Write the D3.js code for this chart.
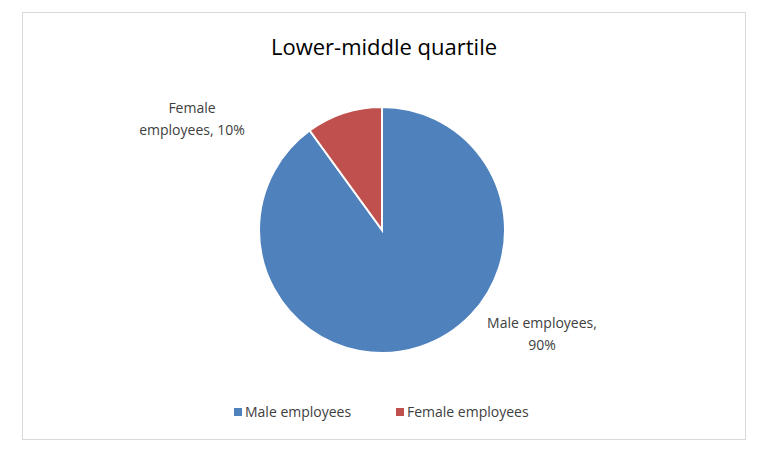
<!DOCTYPE html>
<html><head><meta charset="utf-8">
<script src="https://cdn.jsdelivr.net/npm/d3@7"></script>
<style>body{margin:0;background:#fff;font-family:"Open Sans","Liberation Sans",sans-serif;}</style>
</head><body>
<svg id="c" width="767" height="454"></svg>
<script>
const categories = ["Male employees", "Female employees"];
const values = [90, 10];
const colors = ["#4F81BD", "#C0504D"];
const title = "Lower-middle quartile";

const svg = d3.select("#c");
svg.append("rect").attr("x",22.5).attr("y",12.5).attr("width",723).attr("height",427)
  .attr("fill","#fff").attr("stroke","#d9d9d9");
svg.append("text").attr("x",384).attr("y",55).attr("text-anchor","middle")
  .attr("font-size",22).attr("fill","#000").text(title);

const cx=382, cy=230, r=123;
const pie = d3.pie().sort(null).value(d=>d)(values);
const arc = d3.arc().innerRadius(0).outerRadius(r);
const g = svg.append("g").attr("transform",`translate(${cx},${cy})`);
g.selectAll("path").data(pie).join("path").attr("d",arc)
  .attr("fill",(d,i)=>colors[i]).attr("stroke","#fff").attr("stroke-width",2);

const labels = [
  {lines:["Female","employees, 10%"], x:192, y:113},
  {lines:["Male employees,","90%"], x:542, y:328}
];
labels.forEach((l,i)=>{
  const t = svg.append("text").attr("text-anchor","middle").attr("font-size",14).attr("fill","#404040");
  l.lines.forEach((s,j)=>t.append("tspan").attr("x",l.x).attr("y",l.y+j*22).text(s));
});

const lx=[234,396];
categories.forEach((c,i)=>{
  svg.append("rect").attr("x",lx[i]).attr("y",408).attr("width",8).attr("height",8).attr("fill",colors[i]);
  svg.append("text").attr("x",lx[i]+11).attr("y",417).attr("font-size",14).attr("fill","#404040").text(c);
});
</script>
</body></html>
